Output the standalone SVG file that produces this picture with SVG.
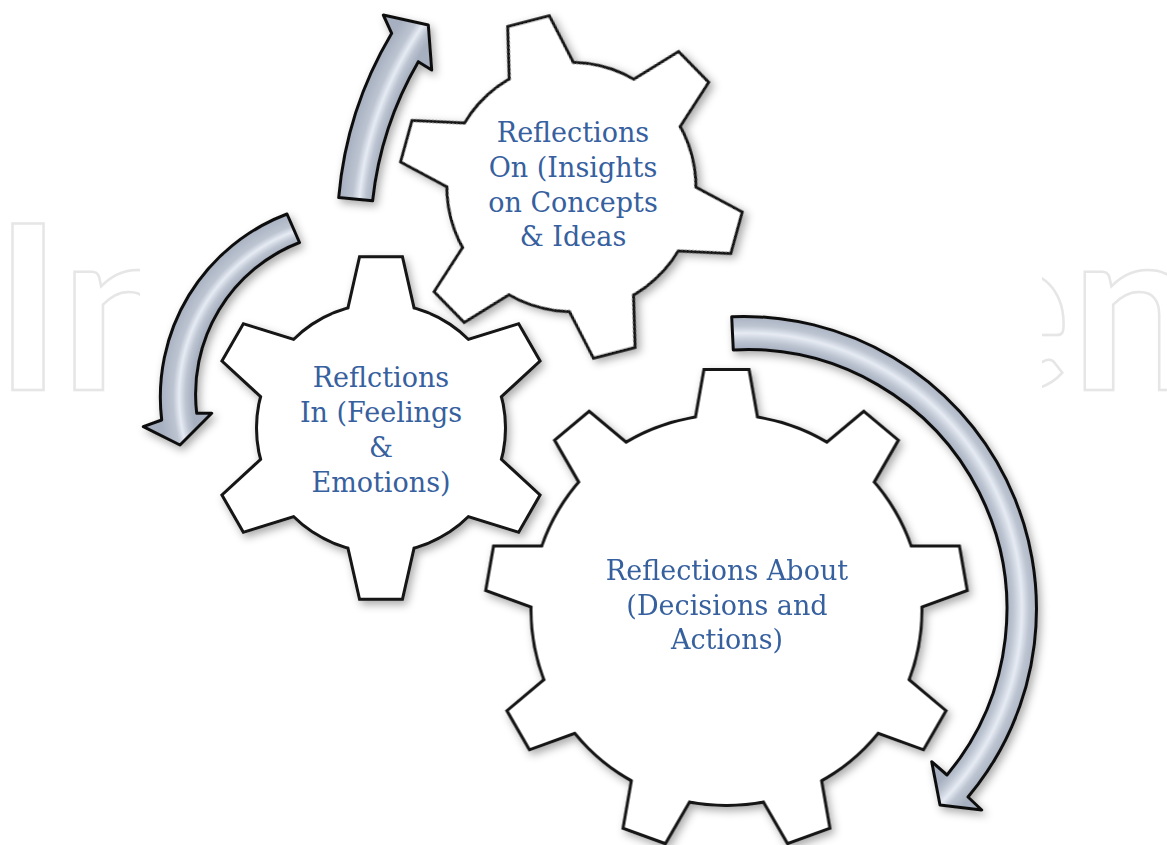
<svg xmlns="http://www.w3.org/2000/svg" xmlns:xlink="http://www.w3.org/1999/xlink" width="1167" height="845" viewBox="0 0 1167 845">
<style>
.wm{font-family:Lato,"Liberation Sans",sans-serif;font-weight:700;font-size:230px;fill:none;stroke:#e6e6e6;stroke-width:2.5}
.gs{fill:none;stroke:#141414;stroke-width:6;stroke-linejoin:miter}
.gf{fill:#ffffff;stroke:none}
.lbl{font-family:"DejaVu Serif","Liberation Serif",serif;font-size:27px;fill:#36609e;text-anchor:middle}
.arr{stroke:#111;stroke-width:3;stroke-linejoin:round}
</style>
<defs>
<filter id="sh" x="-20%" y="-20%" width="140%" height="140%">
<feDropShadow dx="3" dy="4" stdDeviation="4" flood-color="#000" flood-opacity="0.33"/>
</filter>
<g id="gear6">
<circle r="123"/>
<path id="t6" d="M-20.25,-169.8 L20.25,-169.8 L36.4,-98.4 L-36.4,-98.4 Z"/>
<use href="#t6" transform="rotate(60)"/>
<use href="#t6" transform="rotate(120)"/>
<use href="#t6" transform="rotate(180)"/>
<use href="#t6" transform="rotate(240)"/>
<use href="#t6" transform="rotate(300)"/>
</g>
<g id="gear9">
<circle r="194"/>
<path id="t9" d="M-21.3,-239 L21.3,-239 L33.9,-168 L-33.9,-168 Z"/>
<use href="#t9" transform="rotate(40)"/>
<use href="#t9" transform="rotate(80)"/>
<use href="#t9" transform="rotate(120)"/>
<use href="#t9" transform="rotate(160)"/>
<use href="#t9" transform="rotate(200)"/>
<use href="#t9" transform="rotate(240)"/>
<use href="#t9" transform="rotate(280)"/>
<use href="#t9" transform="rotate(320)"/>
</g>
<radialGradient id="gA" gradientUnits="userSpaceOnUse" cx="724" cy="234" r="387">
<stop offset="0.912" stop-color="#a7b0c0"/>
<stop offset="0.93" stop-color="#bcc4d1"/>
<stop offset="0.947" stop-color="#e6ebf3"/>
<stop offset="0.965" stop-color="#bcc4d1"/>
<stop offset="1" stop-color="#a7b0c0"/>
</radialGradient>
<radialGradient id="gB" gradientUnits="userSpaceOnUse" cx="354.8" cy="396.3" r="195.5">
<stop offset="0.831" stop-color="#a7b0c0"/>
<stop offset="0.865" stop-color="#bcc4d1"/>
<stop offset="0.899" stop-color="#e6ebf3"/>
<stop offset="0.93" stop-color="#bcc4d1"/>
<stop offset="1" stop-color="#a7b0c0"/>
</radialGradient>
<radialGradient id="gC" gradientUnits="userSpaceOnUse" cx="747" cy="608" r="292.5">
<stop offset="0.887" stop-color="#a7b0c0"/>
<stop offset="0.91" stop-color="#bcc4d1"/>
<stop offset="0.94" stop-color="#e6ebf3"/>
<stop offset="0.965" stop-color="#bcc4d1"/>
<stop offset="1" stop-color="#a7b0c0"/>
</radialGradient>
</defs>
<rect x="0" y="0" width="1167" height="845" fill="#ffffff"/>
<g id="watermark">
<text class="wm" x="-6" y="390">In</text>
<text class="wm" x="948" y="390">en</text>
</g>
<rect x="140" y="0" width="902" height="845" fill="#ffffff"/>
<g id="connectors" filter="url(#sh)">
<path id="arrow-in-to-on" class="arr" fill="url(#gA)" d="M338.7,197.6 A387,387 0 0 1 391.7,33.3 L383.3,15 L428.3,25 L431.7,70 L418.3,61.7 A353,353 0 0 0 372.6,200.8 Z"/>
<path id="arrow-on-to-in" class="arr" fill="url(#gB)" d="M287,214 A195.5,195.5 0 0 0 161.7,420 L143.3,426.7 L180,445 L211.7,413.3 L196.7,413.3 A162.5,162.5 0 0 1 299.5,242.5 Z"/>
<path id="arrow-on-to-about" class="arr" fill="url(#gC)" d="M731.7,316.7 A292.5,292.5 0 0 1 968,797 L981.7,810 L940,805 L931.7,761.7 L947,775 A259.5,259.5 0 0 0 733.3,350 Z"/>
</g>
<g id="gear-on">
<g transform="translate(571.4,187) rotate(-14.5)" filter="url(#sh)">
<use href="#gear6" class="gs"/>
<use href="#gear6" class="gf"/>
</g>
<text class="lbl"><tspan x="573" y="142">Reflections</tspan><tspan x="573" y="177">On (Insights</tspan><tspan x="573" y="212">on Concepts</tspan><tspan x="573" y="246">&amp; Ideas</tspan></text>
</g>
<g id="gear-in">
<g transform="translate(381,428)" filter="url(#sh)">
<use href="#gear6" class="gs"/>
<use href="#gear6" class="gf"/>
</g>
<text class="lbl"><tspan x="381" y="387">Reflctions</tspan><tspan x="381" y="422">In (Feelings</tspan><tspan x="381" y="457">&amp;</tspan><tspan x="381" y="492">Emotions)</tspan></text>
</g>
<g id="gear-about">
<g transform="translate(726.5,610)" filter="url(#sh)">
<use href="#gear9" class="gs"/>
<use href="#gear9" class="gf"/>
</g>
<text class="lbl"><tspan x="727" y="580">Reflections About</tspan><tspan x="727" y="614.5">(Decisions and</tspan><tspan x="727" y="648.5">Actions)</tspan></text>
</g>
</svg>
